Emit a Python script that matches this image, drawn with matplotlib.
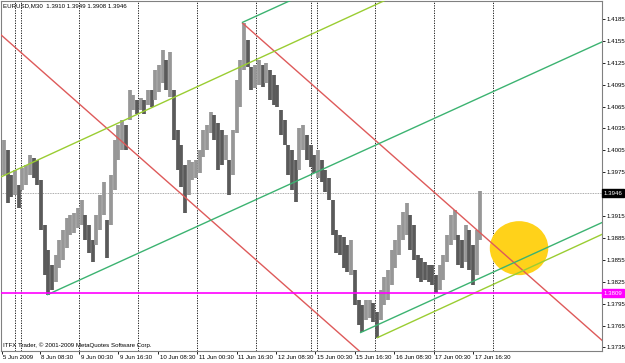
import matplotlib
matplotlib.use("Agg")
import matplotlib.pyplot as plt
import matplotlib.transforms as mtransforms
from matplotlib.patches import Ellipse
import numpy as np

# ---------------- data ----------------
title_text = "EURUSD,M30  1.3910 1.3949 1.3908 1.3946"
copyright_text = "ITFX Trader, \u00a9 2001-2009 MetaQuotes Software Corp."

bars_per_sample = 3  # each drawn bar summarises 3 M30 bars

high = [1.4019, 1.4006, 1.3971, 1.3978, 1.3958, 1.3981, 1.3985, 1.3999, 1.3994, 1.3992,
        1.3964, 1.3903, 1.3869, 1.3848, 1.3862, 1.3882, 1.3896, 1.3912, 1.3916, 1.3919,
        1.3926, 1.3937, 1.3916, 1.3903, 1.3882, 1.3916, 1.3944, 1.3962, 1.3910, 1.3971,
        1.4019, 1.4040, 1.4047, 1.4040, 1.4088, 1.4081, 1.4074, 1.4077, 1.4074, 1.4088,
        1.4088, 1.4115, 1.4122, 1.4143, 1.4129, 1.4140, 1.4088, 1.4033, 1.4012, 1.3985,
        1.3992, 1.3989, 1.3992, 1.4006, 1.4033, 1.4040, 1.4057, 1.4053, 1.4042, 1.4033,
        1.4026, 1.3992, 1.4033, 1.4101, 1.4129, 1.4180, 1.4156, 1.4119, 1.4122, 1.4129,
        1.4122, 1.4125, 1.4115, 1.4108, 1.4095, 1.4060, 1.4047, 1.4012, 1.4006, 1.3992,
        1.4036, 1.4040, 1.4026, 1.4012, 1.3999, 1.4006, 1.3992, 1.3978, 1.3967, 1.3937,
        1.3896, 1.3889, 1.3886, 1.3875, 1.3882, 1.3841, 1.3800, 1.3793, 1.3800, 1.3800,
        1.3796, 1.3784, 1.3814, 1.3832, 1.3841, 1.3869, 1.3882, 1.3903, 1.3921, 1.3933,
        1.3916, 1.3903, 1.3862, 1.3858, 1.3852, 1.3848, 1.3848, 1.3834, 1.3848, 1.3862,
        1.3889, 1.3916, 1.3923, 1.3889, 1.3882, 1.3903, 1.3896, 1.3875, 1.3896, 1.3949]
low = [1.3971, 1.3933, 1.3941, 1.3944, 1.3926, 1.3951, 1.3958, 1.3971, 1.3967, 1.3958,
       1.3896, 1.3834, 1.3807, 1.3814, 1.3825, 1.3844, 1.3855, 1.3871, 1.3889, 1.3892,
       1.3899, 1.3903, 1.3882, 1.3865, 1.3852, 1.3875, 1.3896, 1.3916, 1.3858, 1.3903,
       1.3951, 1.3992, 1.4006, 1.4006, 1.4047, 1.4060, 1.4055, 1.4060, 1.4055, 1.4067,
       1.4064, 1.4074, 1.4085, 1.4097, 1.4088, 1.4078, 1.4019, 1.3978, 1.3955, 1.3919,
       1.3944, 1.3964, 1.3967, 1.3974, 1.3996, 1.4006, 1.4029, 1.4019, 1.3978, 1.3985,
       1.3992, 1.3944, 1.3971, 1.4029, 1.4064, 1.4115, 1.4119, 1.4088, 1.4090, 1.4095,
       1.4092, 1.4097, 1.4074, 1.4067, 1.4064, 1.4026, 1.4012, 1.3971, 1.3951, 1.3934,
       1.3978, 1.4006, 1.3992, 1.3982, 1.3974, 1.3967, 1.3962, 1.3948, 1.3937, 1.3889,
       1.3864, 1.3862, 1.3844, 1.3838, 1.3834, 1.3793, 1.3766, 1.3756, 1.3773, 1.3775,
       1.3770, 1.3748, 1.3773, 1.3793, 1.3800, 1.3821, 1.3844, 1.3862, 1.3882, 1.3889,
       1.3869, 1.3855, 1.3830, 1.3825, 1.3827, 1.3825, 1.3821, 1.3810, 1.3814, 1.3827,
       1.3852, 1.3875, 1.3882, 1.3848, 1.3844, 1.3852, 1.3841, 1.3821, 1.3834, 1.3882]

price_ticks = [1.4185, 1.4155, 1.4125, 1.4095, 1.4065, 1.4035, 1.4005, 1.3975,
               1.3915, 1.3885, 1.3855, 1.3825, 1.3795, 1.3765, 1.3735]
time_label_bars = [-1, 30, 62, 94, 126, 158, 190, 222, 254, 286, 318, 350, 382]
time_labels = ["5 Jun 2009", "8 Jun 08:30", "9 Jun 00:30", "9 Jun 16:30",
               "10 Jun 08:30", "11 Jun 00:30", "11 Jun 16:30", "12 Jun 08:30",
               "15 Jun 00:30", "15 Jun 16:30", "16 Jun 08:30", "17 Jun 00:30",
               "17 Jun 16:30"]
separator_bars = [10, 15, 62, 110, 158, 206, 250, 255, 302, 350, 398]

current_price = 1.3946
level_price = 1.3809

# trend lines: (bar, price) anchor pairs
red_main = [(3.4, 1.4156), (279.6, 1.3745)]        # extends both ways
red_parallel_start = (194.3, 1.4180)                 # ray to the right
green_main = [(35.9, 1.3807), (486.8, 1.41535)]      # ray to the right
green_upper_start = (194.3, 1.4180)
green_lower_start = (290.2, 1.3755)
yg_main = [(-0.9, 1.3969), (276.4, 1.4184)]          # extends both ways
yg_lower_start = (303.8, 1.3748)

ellipse_center = (419.4, 1.3871)
ellipse_size = (47.5, 0.0074)

# ---------------- style ----------------
RED = "#DE5A5A"
GREEN = "#3CB371"
YGREEN = "#9ACD32"
MAGENTA = "#FF00FF"
GOLD = "#FFD21A"
FONT = "Liberation Sans"
FS = 4.4

W, H = 625, 363
fig = plt.figure(figsize=(W / 100, H / 100), dpi=100, facecolor="white")
ax = fig.add_axes([1 / W, 12 / H, 601 / W, 350 / H])
ax.set_facecolor("white")

xlim = (-1.437, 486.8)
ylim = (1.37301, 1.42096)
ax.set_xlim(*xlim)
ax.set_ylim(*ylim)

# separators
for b in separator_bars:
    ax.axvline(b, color="black", lw=0.6, ls=(0, (1.5, 1.5)), zorder=1)

# price bars
hi = np.array(high)
lo = np.array(low)
xs = np.arange(len(hi)) * bars_per_sample + 1
mid = (hi + lo) / 2
up = np.concatenate([[True], mid[1:] >= mid[:-1]])
cols = np.where(up, "#979797", "#5A5A5A")
ax.vlines(xs, lo, hi, colors=cols, lw=2.7, zorder=3)

# ellipse
ax.add_patch(Ellipse(ellipse_center, ellipse_size[0], ellipse_size[1],
                     facecolor=GOLD, edgecolor="none", zorder=2))


def slope_of(pts):
    (x0, y0), (x1, y1) = pts
    return (y1 - y0) / (x1 - x0)


def draw_line(start, slope, color, left=False):
    x0, y0 = start
    xa = xlim[0] - 20 if left else x0
    xb = xlim[1] + 20
    ax.plot([xa, xb], [y0 + slope * (xa - x0), y0 + slope * (xb - x0)],
            color=color, lw=1.0, zorder=4, solid_capstyle="butt")


rs = slope_of(red_main)
gs = slope_of(green_main)
ys = slope_of(yg_main)
draw_line(red_main[0], rs, RED, left=True)
draw_line(red_parallel_start, rs, RED)
draw_line(green_main[0], gs, GREEN)
draw_line(green_upper_start, gs, GREEN)
draw_line(green_lower_start, gs, GREEN)
draw_line(yg_main[0], ys, YGREEN, left=True)
draw_line(yg_lower_start, ys, YGREEN)

# horizontal lines
ax.axhline(current_price, color="#909090", lw=0.6, ls=(0, (1, 1)), zorder=2)
ax.axhline(level_price, color=MAGENTA, lw=1.2, zorder=4)

# spines / ticks
for s in ax.spines.values():
    s.set_color("#808080")
    s.set_linewidth(0.8)
ax.yaxis.tick_right()
ax.set_yticks(price_ticks)
ax.set_yticklabels([f"{p:.4f}" for p in price_ticks], fontsize=FS, family=FONT)
ax.tick_params(axis="y", length=2.2, width=0.6, pad=1.2, colors="black")
ax.set_xticks(time_label_bars)
ax.set_xticklabels(time_labels, fontsize=FS, family=FONT, ha="left")
ax.tick_params(axis="x", length=2.2, width=0.6, pad=0.8, colors="black")
offset = mtransforms.ScaledTranslation(1.2 / 72, 0, fig.dpi_scale_trans)
for lab in ax.get_xticklabels():
    lab.set_transform(lab.get_transform() + offset)

# price label boxes on axis
bt = mtransforms.blended_transform_factory(ax.transAxes, ax.transData)
ax.text(1.003, current_price, f"{current_price:.4f}", transform=bt, ha="left",
        va="center", fontsize=FS, family=FONT, color="white", zorder=10,
        bbox=dict(boxstyle="square,pad=0.25", fc="black", ec="black"), clip_on=False)
ax.text(1.003, level_price, f"{level_price:.4f}", transform=bt, ha="left",
        va="center", fontsize=FS, family=FONT, color="white", zorder=10,
        bbox=dict(boxstyle="square,pad=0.25", fc=MAGENTA, ec=MAGENTA), clip_on=False)

# texts
fig.text(3 / W, 1 - 6 / H, title_text, fontsize=FS, family=FONT, va="center", ha="left")
fig.text(3 / W, 1 - 345 / H, copyright_text, fontsize=FS, family=FONT, va="center", ha="left")

fig.savefig("out.png", dpi=100, facecolor="white")
